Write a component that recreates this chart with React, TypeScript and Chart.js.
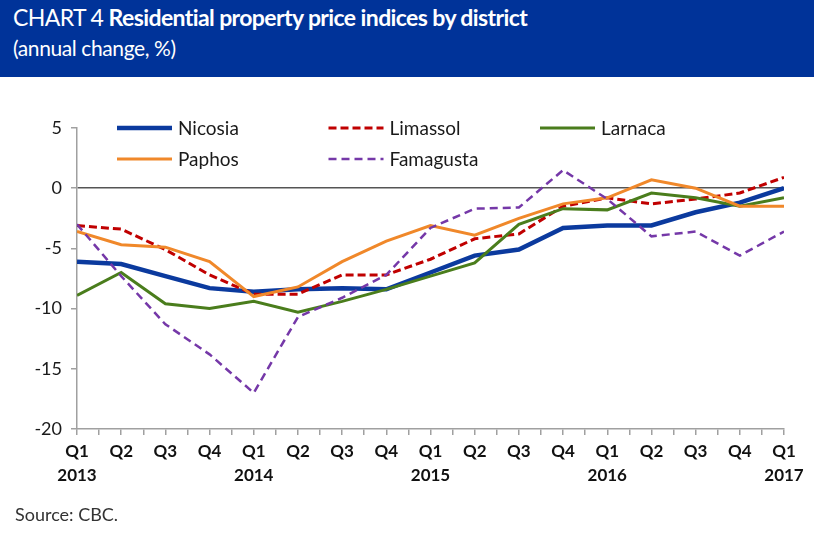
import React, { useEffect, useRef } from 'react';
import { Chart, registerables } from 'chart.js';
Chart.register(...registerables);

const quarters = ['Q1', 'Q2', 'Q3', 'Q4', 'Q1', 'Q2', 'Q3', 'Q4', 'Q1', 'Q2', 'Q3', 'Q4', 'Q1', 'Q2', 'Q3', 'Q4', 'Q1'];
const years = ['2013', '', '', '', '2014', '', '', '', '2015', '', '', '', '2016', '', '', '', '2017'];
const nicosia = [-6.1, -6.3, -7.3, -8.3, -8.6, -8.4, -8.3, -8.4, -7.0, -5.6, -5.1, -3.3, -3.1, -3.1, -2.0, -1.2, 0.0];
const limassol = [-3.1, -3.4, -5.1, -7.2, -8.8, -8.8, -7.2, -7.2, -5.9, -4.2, -3.8, -1.5, -0.8, -1.3, -0.9, -0.4, 0.9];
const larnaca = [-8.9, -7.0, -9.6, -10.0, -9.4, -10.3, -9.4, -8.4, -7.3, -6.2, -3.0, -1.7, -1.8, -0.4, -0.8, -1.5, -0.8];
const paphos = [-3.6, -4.7, -4.9, -6.1, -9.0, -8.2, -6.1, -4.4, -3.1, -3.9, -2.5, -1.3, -0.8, 0.7, 0.0, -1.5, -1.5];
const famagusta = [-3.0, -7.3, -11.3, -13.8, -17.0, -10.7, -9.1, -7.2, -3.3, -1.7, -1.6, 1.5, -0.9, -4.0, -3.6, -5.6, -3.6];
const seriesNames = ['Nicosia', 'Limassol', 'Larnaca', 'Paphos', 'Famagusta'];
const yMin = -20;
const yMax = 5;
const yStep = 5;

const FONT = 'Lato, "Noto Sans", sans-serif';

const legendCols = [0, 1, 2, 0, 1];
const legendRows = [0, 0, 0, 1, 1];

const insideLegend = {
  id: 'insideLegend',
  afterDatasetsDraw(chart: any) {
    const ctx = chart.ctx;
    const { left, top } = chart.chartArea;
    ctx.save();
    chart.data.datasets.forEach((ds: any, i: number) => {
      const x0 = left + 40 + legendCols[i] * 211.5;
      const y0 = top + legendRows[i] * 31;
      ctx.beginPath();
      ctx.strokeStyle = ds.borderColor;
      ctx.lineWidth = ds.borderWidth;
      ctx.setLineDash(ds.borderDash || []);
      ctx.lineCap = 'butt';
      ctx.moveTo(x0, y0);
      ctx.lineTo(x0 + 55, y0);
      ctx.stroke();
      ctx.setLineDash([]);
      ctx.fillStyle = '#1a1a1a';
      ctx.font = '19px ' + FONT;
      ctx.textBaseline = 'middle';
      ctx.textAlign = 'left';
      ctx.fillText(ds.label, x0 + 61, y0 + 1);
    });
    ctx.restore();
  },
};

export default function App() {
  const ref = useRef<HTMLCanvasElement | null>(null);
  useEffect(() => {
    if (!ref.current) return;
    const toPts = (arr: number[]) => arr.map((v, i) => ({ x: i, y: v }));
    const styles = [
      { c: '#0B3A9E', w: 4.5, d: [] as number[] },
      { c: '#C00000', w: 3, d: [8, 4] },
      { c: '#4A7D1C', w: 3, d: [] as number[] },
      { c: '#F0882A', w: 3, d: [] as number[] },
      { c: '#7538A8', w: 2.5, d: [8, 5] },
    ];
    const series = [nicosia, limassol, larnaca, paphos, famagusta];
    const chart = new Chart(ref.current, {
      type: 'line',
      data: {
        datasets: series.map((s, i) => ({
          label: seriesNames[i],
          data: toPts(s),
          borderColor: styles[i].c,
          backgroundColor: styles[i].c,
          borderWidth: styles[i].w,
          borderDash: styles[i].d,
          pointRadius: 0,
          tension: 0,
          fill: false,
          order: 5 - i,
        })),
      },
      options: {
        animation: false,
        responsive: false,
        maintainAspectRatio: false,
        layout: { padding: { left: 0, right: 30, top: 128, bottom: 0 } },
        plugins: { legend: { display: false }, tooltip: { enabled: false }, title: { display: false } },
        scales: {
          x: {
            type: 'linear',
            min: 0,
            max: quarters.length - 1,
            afterBuildTicks: (scale: any) => {
              const t = [];
              for (let i = 0; i <= (quarters.length - 1) * 2; i++) t.push({ value: i / 2 });
              scale.ticks = t;
            },
            afterFit: (scale: any) => {
              scale.height = 111;
            },
            grid: { drawOnChartArea: false, tickLength: 6, tickColor: '#a0a0a0', lineWidth: 1.5 },
            border: { color: '#a0a0a0', width: 1.5 },
            ticks: {
              autoSkip: false,
              maxRotation: 0,
              minRotation: 0,
              padding: 4,
              color: '#111',
              font: { family: FONT, size: 17, weight: 'bold', lineHeight: 1.45 },
              callback: (v: any) => {
                const n = Number(v);
                if (Number.isInteger(n)) return [quarters[n], years[n] || ' '];
                return '';
              },
            },
          },
          y: {
            min: yMin,
            max: yMax,
            afterFit: (scale: any) => {
              scale.width = 77;
            },
            grid: {
              drawOnChartArea: true,
              color: (c: any) => (c.tick && c.tick.value === 0 ? '#555' : 'rgba(0,0,0,0)'),
              lineWidth: 1.5,
              tickLength: 6,
              tickColor: '#a0a0a0',
            },
            border: { color: '#a0a0a0', width: 1.5 },
            ticks: {
              stepSize: yStep,
              padding: 9,
              color: '#1a1a1a',
              font: { family: FONT, size: 18 },
            },
          },
        },
      },
      plugins: [insideLegend],
    } as any);
    return () => chart.destroy();
  }, []);

  return (
    <div style={{ position: 'fixed', left: 0, top: 0, width: 814, height: 540, background: '#fff', overflow: 'hidden' }}>
      <div style={{ position: 'absolute', left: 0, top: 0, width: 814, height: 77, background: '#003399' }} />
      <div style={{ position: 'absolute', left: 13, top: 3, color: '#fff', fontFamily: FONT, fontSize: 23, whiteSpace: 'nowrap', letterSpacing: -0.6 }}>
        <span>CHART 4 </span>
        <span style={{ fontWeight: 'bold' }}>Residential property price indices by district</span>
      </div>
      <div style={{ position: 'absolute', left: 13, top: 35, color: '#fff', fontFamily: FONT, fontSize: 21, whiteSpace: 'nowrap', letterSpacing: -0.4 }}>
        (annual change, %)
      </div>
      <canvas ref={ref} width={814} height={540} style={{ position: 'absolute', left: 0, top: 0, width: 814, height: 540 }} />
      <div style={{ position: 'absolute', left: 15, top: 503, color: '#333', fontFamily: FONT, fontSize: 18, whiteSpace: 'nowrap' }}>
        Source: CBC.
      </div>
    </div>
  );
}
